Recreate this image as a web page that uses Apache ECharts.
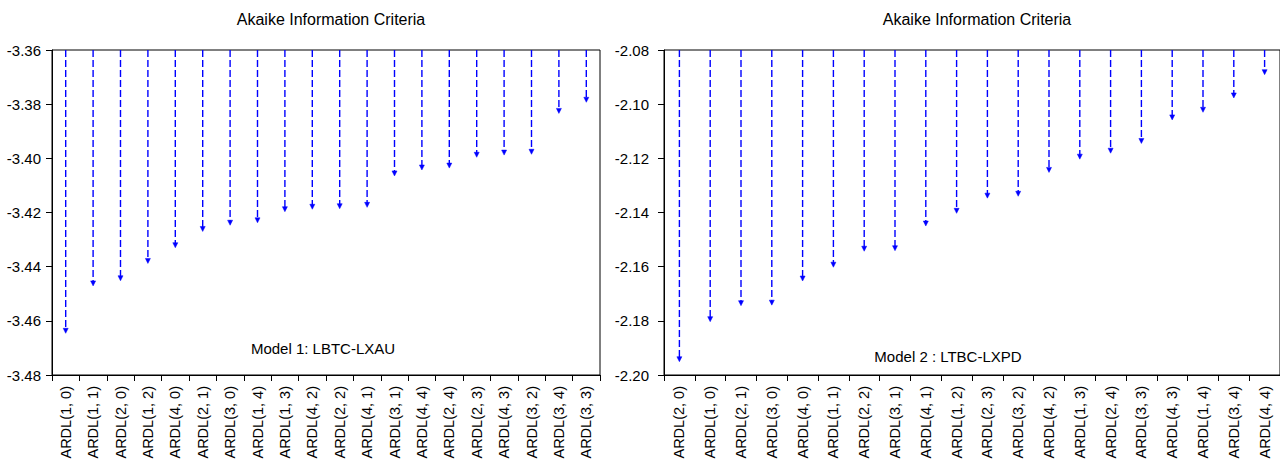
<!DOCTYPE html>
<html>
<head>
<meta charset="utf-8">
<script src="https://cdn.jsdelivr.net/npm/echarts@6/dist/echarts.min.js"></script>
<style>
html,body{margin:0;padding:0;background:#fff;}
#c{width:1280px;height:464px;}
</style>
</head>
<body>
<div id="c"></div>
<script>
// ---- data ----
const chartTitle = 'Akaike Information Criteria';

const categories1 = ['ARDL(1, 0)','ARDL(1, 1)','ARDL(2, 0)','ARDL(1, 2)','ARDL(4, 0)','ARDL(2, 1)','ARDL(3, 0)','ARDL(1, 4)','ARDL(1, 3)','ARDL(4, 2)','ARDL(2, 2)','ARDL(4, 1)','ARDL(3, 1)','ARDL(4, 4)','ARDL(2, 4)','ARDL(2, 3)','ARDL(4, 3)','ARDL(3, 2)','ARDL(3, 4)','ARDL(3, 3)'];
const values1 = [-3.4646,-3.4471,-3.4452,-3.4388,-3.4330,-3.4270,-3.4247,-3.4238,-3.4197,-3.4188,-3.4186,-3.4181,-3.4065,-3.4043,-3.4036,-3.3996,-3.3988,-3.3985,-3.3834,-3.3793];
const yAxis1 = {min: -3.48, max: -3.36, step: 0.02};
const note1 = 'Model 1: LBTC-LXAU';

const categories2 = ['ARDL(2, 0)','ARDL(1, 0)','ARDL(2, 1)','ARDL(3, 0)','ARDL(4, 0)','ARDL(1, 1)','ARDL(2, 2)','ARDL(3, 1)','ARDL(4, 1)','ARDL(1, 2)','ARDL(2, 3)','ARDL(3, 2)','ARDL(4, 2)','ARDL(1, 3)','ARDL(2, 4)','ARDL(3, 3)','ARDL(4, 3)','ARDL(1, 4)','ARDL(3, 4)','ARDL(4, 4)'];
const values2 = [-2.1951,-2.1803,-2.1744,-2.1742,-2.1653,-2.1602,-2.1543,-2.1541,-2.1450,-2.1403,-2.1347,-2.1340,-2.1252,-2.1203,-2.1181,-2.1145,-2.1058,-2.1030,-2.0977,-2.0891];
const yAxis2 = {min: -2.20, max: -2.08, step: 0.02};
const note2 = 'Model 2 : LTBC-LXPD';

// ---- chart ----
const FONT = '"Liberation Sans", Arial, sans-serif';
const BLUE = '#0000ff';

function dropRender(topVal) {
  return function (params, api) {
    const x = api.value(0), v = api.value(1);
    const top = api.coord([x, topVal]);
    const p = api.coord([x, v]);
    return {
      type: 'group',
      children: [
        {type: 'line', shape: {x1: p[0], y1: top[1], x2: p[0], y2: p[1] - 4},
         style: {stroke: BLUE, lineWidth: 1.4, lineDash: [7, 3]}},
        {type: 'polygon', shape: {points: [[p[0] - 2.5, p[1] - 5], [p[0] + 2.5, p[1] - 5], [p[0], p[1]]]},
         style: {fill: BLUE, stroke: BLUE, lineWidth: 0.5}}
      ]
    };
  };
}

function xAxisCfg(idx, cats) {
  return {
    type: 'category', gridIndex: idx, data: cats, boundaryGap: true,
    axisLine: {show: true, lineStyle: {color: '#000', width: 1}},
    axisTick: {show: true, interval: 0, length: 6, lineStyle: {color: '#000'}},
    axisLabel: {interval: 0, rotate: 90, margin: 11, color: '#000', fontFamily: FONT, fontSize: 14.5},
    splitLine: {show: false}
  };
}
function yAxisCfg(idx, ax, margin) {
  return {
    type: 'value', gridIndex: idx, min: ax.min, max: ax.max, interval: ax.step,
    axisLine: {show: true, lineStyle: {color: '#000', width: 1}},
    axisTick: {show: true, length: 6, lineStyle: {color: '#000'}},
    axisLabel: {margin: margin, color: '#000', fontFamily: FONT, fontSize: 15,
      formatter: v => v.toFixed(2)},
    splitLine: {show: false}
  };
}

const chart = echarts.init(document.getElementById('c'), null, {renderer: 'svg'});
chart.setOption({
  animation: false,
  backgroundColor: '#fff',
  title: [
    {text: chartTitle, left: 326, top: 6, textAlign: 'center',
     textStyle: {fontFamily: FONT, fontSize: 16, fontWeight: 'normal', color: '#000'}},
    {text: chartTitle, left: 972, top: 6, textAlign: 'center',
     textStyle: {fontFamily: FONT, fontSize: 16, fontWeight: 'normal', color: '#000'}}
  ],
  grid: [
    {left: 52, top: 50, width: 548, height: 325, show: true, borderColor: '#000', borderWidth: 1, backgroundColor: 'transparent'},
    {left: 664, top: 50, width: 618, height: 325, show: true, borderColor: '#000', borderWidth: 1, backgroundColor: 'transparent'}
  ],
  xAxis: [xAxisCfg(0, categories1), xAxisCfg(1, categories2)],
  yAxis: [yAxisCfg(0, yAxis1, 11), yAxisCfg(1, yAxis2, 15)],
  graphic: [
    {type: 'text', x: 323, y: 348, style: {text: note1, fontFamily: FONT, fontSize: 15, fill: '#000', textAlign: 'center', textVerticalAlign: 'middle'}},
    {type: 'text', x: 948, y: 356, style: {text: note2, fontFamily: FONT, fontSize: 15, fill: '#000', textAlign: 'center', textVerticalAlign: 'middle'}}
  ],
  series: [
    {type: 'custom', xAxisIndex: 0, yAxisIndex: 0, renderItem: dropRender(yAxis1.max),
     data: values1.map((v, i) => [i, v]), encode: {x: 0, y: 1}},
    {type: 'custom', xAxisIndex: 1, yAxisIndex: 1, renderItem: dropRender(yAxis2.max),
     data: values2.map((v, i) => [i, v]), encode: {x: 0, y: 1}}
  ]
});
</script>
</body>
</html>
